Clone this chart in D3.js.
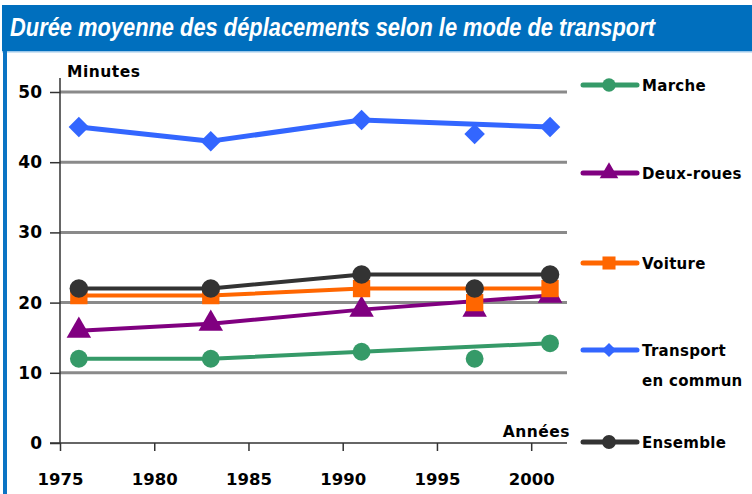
<!DOCTYPE html>
<html><head><meta charset="utf-8">
<script src="https://cdn.jsdelivr.net/npm/d3@7"></script>
<style>
html,body{margin:0;padding:0;background:#fff;}
svg{display:block;}
text{font-family:"DejaVu Sans",Verdana,sans-serif;}
</style></head>
<body>
<svg id="chart" width="752" height="494"></svg>
<script>
// ---- data ----
const title = "Durée moyenne des déplacements selon le mode de transport";
const years = [1976, 1983, 1991, 1997, 2001];
const lineYears = [1976, 1983, 1991, 2001]; // 1997 is shown as an isolated point
const seriesNames = ["Marche", "Deux-roues", "Voiture", "Transport en commun", "Ensemble"];
const marcheValues = [12, 12, 13, 12, 14.2];
const deuxRouesValues = [16, 17, 19, 19, 21];
const voitureValues = [21, 21, 22, 20, 22];
const transportValues = [45, 43, 46, 44, 45];
const ensembleValues = [22, 22, 24, 22, 24];
const yTicks = [0, 10, 20, 30, 40, 50];
const xTicks = [1975, 1980, 1985, 1990, 1995, 2000];
const yAxisTitle = "Minutes";
const xAxisTitle = "Années";

// ---- styles ----
const colors = ["#359a68", "#800080", "#ff6600", "#3366ff", "#333333"];
const shapes = [d3.symbolCircle, d3.symbolTriangle, d3.symbolSquare, d3.symbolSquare, d3.symbolCircle];
const rotations = [0, 0, 0, 45, 0];
const markerSizes = [250, 260, 300, 210, 270];
const legendSizes = [140, 150, 170, 100, 150];
const lineWidths = [4, 4, 4, 5, 4];
const allValues = [marcheValues, deuxRouesValues, voitureValues, transportValues, ensembleValues];

const svg = d3.select("#chart");

// frame
svg.append("rect").attr("x", 2).attr("y", 5).attr("width", 750).attr("height", 46).attr("fill", "#006fbe");
svg.append("rect").attr("x", 2).attr("y", 51).attr("width", 750).attr("height", 1.5).attr("fill", "#9cc8ea");
svg.append("rect").attr("x", 3).attr("y", 51).attr("width", 4).attr("height", 443).attr("fill", "#0b74c4");
svg.append("text").attr("x", 10).attr("y", 36)
  .style("font-family", "'Liberation Sans Narrow','Liberation Sans',Arial,sans-serif")
  .attr("font-size", 25).attr("font-weight", "bold").attr("font-style", "italic")
  .attr("fill", "#fff").attr("textLength", 645).attr("lengthAdjust", "spacingAndGlyphs")
  .text(title);

// scales
const x = d3.scaleLinear().domain([1975, 2001.9]).range([60, 567]);
const y = d3.scaleLinear().domain([0, 50]).range([443, 92]);

// gridlines
const g = svg.append("g");
g.selectAll("line.grid").data(yTicks.filter(t => t > 0)).enter().append("line")
  .attr("x1", 60).attr("x2", 567).attr("y1", d => y(d)).attr("y2", d => y(d))
  .attr("stroke", "#8a8a8a").attr("stroke-width", 3);

// y axis
const yAxis = d3.axisLeft(y).tickValues(yTicks).tickSize(10).tickPadding(8).tickFormat(d3.format("d"));
const ya = svg.append("g").attr("transform", "translate(60,0)").call(yAxis);
ya.select(".domain").remove();
ya.append("line").attr("x1", 0).attr("x2", 0).attr("y1", 78).attr("y2", 443).attr("stroke", "#333").attr("stroke-width", 1.5);
ya.selectAll(".tick line").attr("stroke", "#333").attr("stroke-width", 1.5);
ya.selectAll(".tick text").attr("fill", "#000").attr("font-size", 17).attr("font-weight", "bold")
  .style("font-family", "'DejaVu Sans',sans-serif");

// x axis
const xAxis = d3.axisBottom(x).tickValues(xTicks).tickSize(8).tickPadding(22).tickFormat(d3.format("d"));
const xa = svg.append("g").attr("transform", "translate(0,443)").call(xAxis);
xa.select(".domain").remove();
xa.append("line").attr("x1", 50).attr("x2", 567).attr("y1", 0).attr("y2", 0).attr("stroke", "#333").attr("stroke-width", 1.5);
xa.selectAll(".tick line").attr("stroke", "#333").attr("stroke-width", 1.5);
xa.selectAll(".tick text").attr("fill", "#000").attr("font-size", 16.5).attr("font-weight", "bold")
  .style("font-family", "'DejaVu Sans',sans-serif");

// axis titles
svg.append("text").attr("x", 67).attr("y", 77).attr("font-size", 15.5).attr("font-weight", "bold")
  .attr("letter-spacing", 0.5).text(yAxisTitle);
svg.append("text").attr("x", 570).attr("y", 437).attr("text-anchor", "end").attr("font-size", 15.5).attr("font-weight", "bold")
  .attr("letter-spacing", 0.5).text(xAxisTitle);

// series
const line = d3.line().x(d => x(d.year)).y(d => y(d.value));
allValues.forEach((vals, i) => {
  const pts = years.map((yr, j) => ({year: yr, value: vals[j]}));
  const linePts = pts.filter(p => lineYears.includes(p.year));
  const sg = svg.append("g");
  sg.append("path").datum(linePts).attr("d", line).attr("fill", "none")
    .attr("stroke", colors[i]).attr("stroke-width", lineWidths[i]).attr("stroke-linejoin", "round");
  const sym = d3.symbol().type(shapes[i]).size(markerSizes[i]);
  sg.selectAll("path.m").data(pts).enter().append("path").attr("class", "m")
    .attr("d", sym)
    .attr("transform", d => `translate(${x(d.year)},${y(d.value)}) rotate(${rotations[i]})`)
    .attr("fill", colors[i]);
});

// legend
const legendY = [85, 173, 263, 350, 442];
const lg = svg.append("g");
seriesNames.forEach((name, i) => {
  const ly = legendY[i];
  lg.append("line").attr("x1", 583).attr("x2", 637).attr("y1", ly).attr("y2", ly)
    .attr("stroke", colors[i]).attr("stroke-width", 5).attr("stroke-linecap", "round");
  lg.append("path").attr("d", d3.symbol().type(shapes[i]).size(legendSizes[i]))
    .attr("transform", `translate(609,${ly}) rotate(${rotations[i]})`).attr("fill", colors[i]);
  const words = name === "Transport en commun" ? ["Transport", "en commun"] : [name];
  words.forEach((w, k) => {
    lg.append("text").attr("x", 642).attr("y", ly + 6 + k * 30).attr("font-size", 15)
      .attr("font-weight", "bold").attr("letter-spacing", 0.3).attr("fill", "#000").text(w);
  });
});
</script>
</body></html>
